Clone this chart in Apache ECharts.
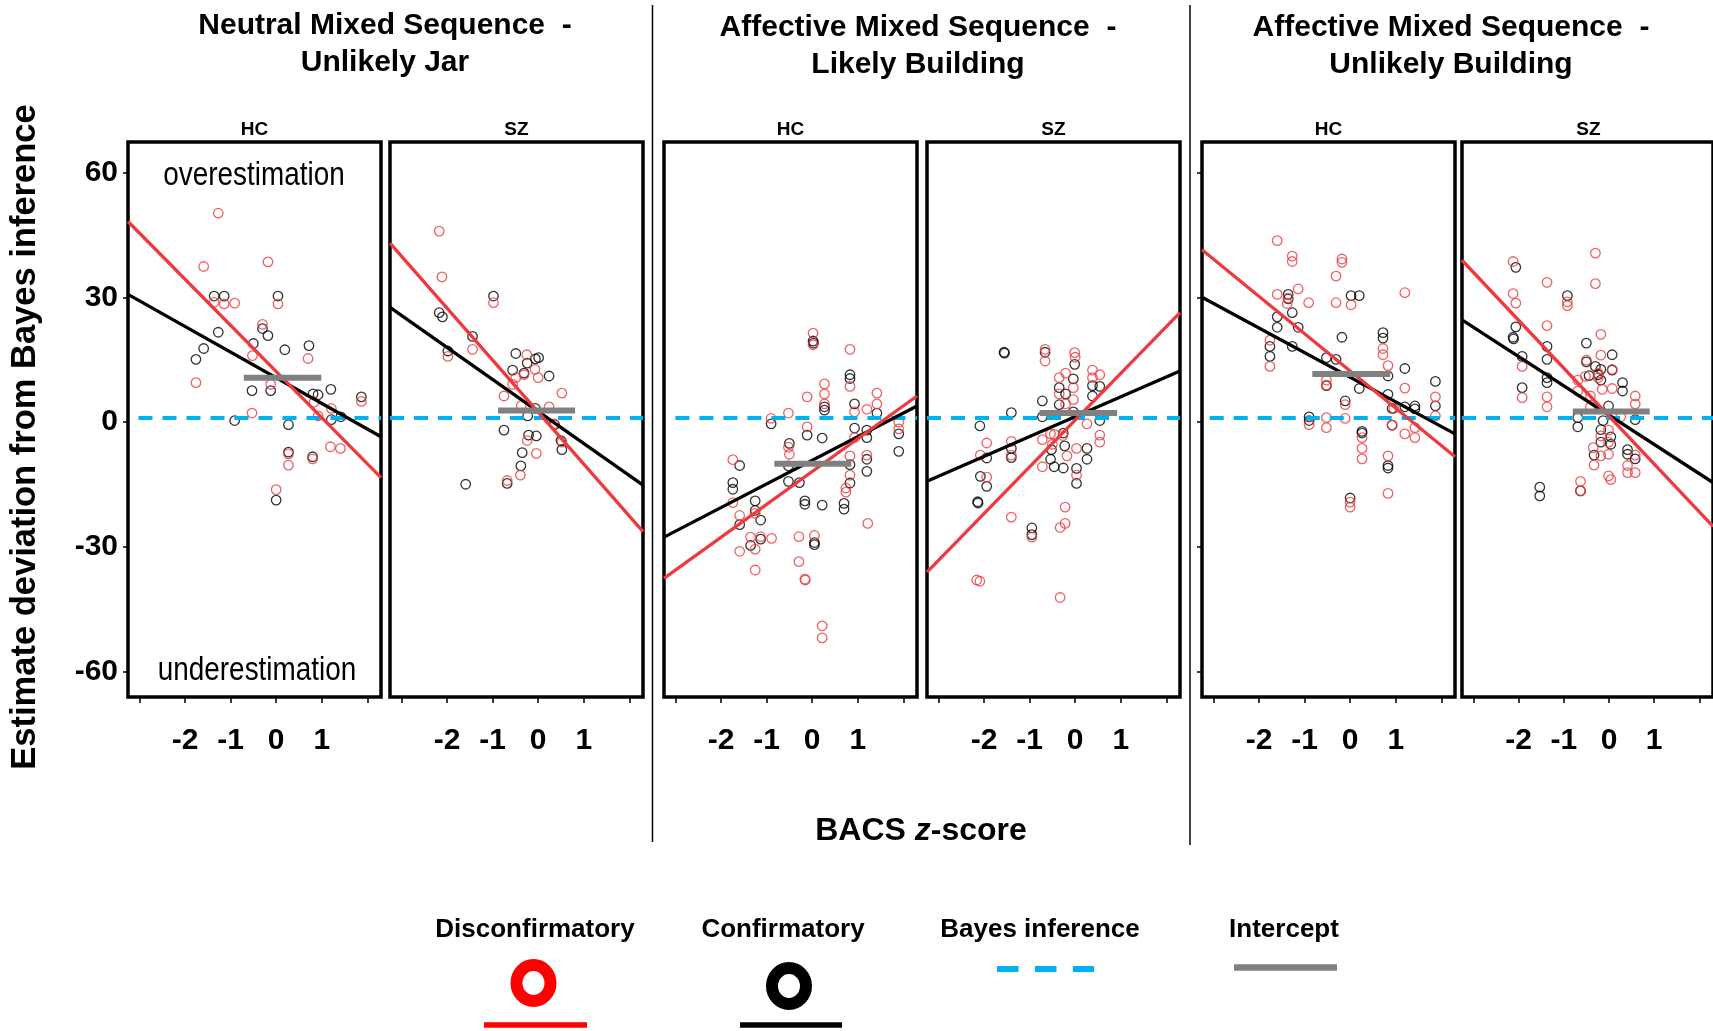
<!DOCTYPE html>
<html><head><meta charset="utf-8">
<script src="https://cdn.jsdelivr.net/npm/echarts@6/dist/echarts.min.js"></script>
<style>html,body{margin:0;padding:0;background:#fff}#c{width:1713px;height:1031px}</style>
</head><body><div id="c"></div>
<script>
// ---------- tick / label values ----------
const xTicks = [-3, -2, -1, 0, 1, 2];
const xTickLabels = [-2, -1, 0, 1];
const yTicks = [-60, -30, 0, 30, 60];
const bayesLevel = 1;

// ---------- titles ----------
const groupTitles = [
  ["Neutral Mixed Sequence  -", "Unlikely Jar"],
  ["Affective Mixed Sequence  -", "Likely Building"],
  ["Affective Mixed Sequence  -", "Unlikely Building"]
];
const panelLabels = ["HC", "SZ", "HC", "SZ", "HC", "SZ"];
const legendNames = ["Disconfirmatory", "Confirmatory", "Bayes inference", "Intercept"];

// ---------- Panel 1: Neutral / Unlikely Jar / HC ----------
const p1Dis = [[-1.27,50.2],[-1.59,37.4],[-0.18,38.5],[-1.36,28.8],[-1.14,28.4],[-0.91,28.6],[0.04,28.4],[-0.30,23.5],[-0.52,16.0],[0.70,15.3],[-1.76,9.5],[-0.12,9.1],[-0.53,2.2],[0.83,4.8],[1.21,3.3],[0.92,1.5],[1.87,5.0],[1.19,-5.9],[1.41,-6.3],[0.27,-7.6],[0.27,-10.3],[0.80,-8.8],[0.0,-16.2]];
const p1Con = [[-1.36,30.3],[-1.14,30.3],[0.04,30.3],[-1.27,21.6],[-0.30,22.5],[-0.18,20.8],[-1.59,17.7],[-1.76,15.1],[-0.50,18.9],[0.19,17.4],[0.72,18.4],[-0.53,7.6],[-0.12,7.6],[0.81,6.8],[0.92,6.6],[1.20,7.9],[1.87,6.1],[-0.91,0.4],[1.21,0.6],[1.42,1.3],[0.27,-0.6],[0.27,-7.2],[0.80,-8.3],[0.0,-18.7]];
const p1DisLine = [[-3.25,48.2],[2.3,-13.3]];
const p1ConLine = [[-3.25,30.7],[2.3,-3.5]];
const p1Intercept = [[-0.71,10.7],[0.99,10.7]];

// ---------- Panel 2: Neutral / Unlikely Jar / SZ ----------
const p2Dis = [[-2.17,45.9],[-2.11,34.9],[-0.98,28.7],[-1.44,17.5],[-1.98,15.8],[-0.25,16.2],[-0.07,12.7],[-0.31,11.4],[-0.49,10.7],[0.0,10.7],[-0.56,9.1],[0.52,7.0],[-0.75,6.3],[-0.37,4.0],[0.24,3.7],[-0.24,-4.4],[-0.04,-7.5],[0.52,-4.8],[-0.39,-12.7],[-0.68,-14.0],[0.35,-0.4]];
const p2Con = [[-0.98,30.3],[-2.17,26.3],[-2.10,25.3],[-1.44,20.6],[-1.98,17.1],[-0.49,16.5],[-0.24,14.2],[-0.06,15.2],[0.01,15.5],[-0.56,12.5],[-0.31,11.8],[0.24,11.1],[-0.06,3.3],[-0.23,1.5],[0.36,-0.6],[-0.75,-1.9],[-0.21,-3.1],[-0.04,-3.3],[0.50,-4.4],[0.52,-6.6],[-0.35,-7.3],[-0.38,-10.5],[-0.68,-14.7],[-1.59,-14.9]];
const p2DisLine = [[-3.25,43.0],[2.3,-26.3]];
const p2ConLine = [[-3.25,27.6],[2.3,-15.1]];
const p2Intercept = [[-0.88,2.8],[0.81,2.8]];

// ---------- Panel 3: Affective / Likely Building / HC ----------
const p3Dis = [[0.02,21.4],[0.02,18.6],[0.83,17.5],[0.27,9.2],[0.27,6.8],[-0.11,6.1],[0.83,8.6],[1.42,7.0],[1.42,4.4],[0.27,4.4],[1.20,3.1],[0.93,2.5],[-0.52,2.2],[-0.90,0.9],[-0.11,-1.1],[1.90,0.0],[1.90,-1.6],[0.93,-3.7],[-0.52,-6.0],[-0.50,-7.7],[-1.74,-9.0],[0.83,-8.1],[1.20,-7.9],[0.83,-12.7],[0.74,-15.8],[0.74,-16.8],[-1.74,-19.3],[-1.59,-22.4],[-1.25,-21.9],[-1.35,-27.6],[-1.13,-27.5],[-0.89,-27.9],[-0.29,-27.5],[0.05,-27.2],[-1.59,-31.0],[-1.25,-30.5],[-0.29,-33.5],[-1.25,-35.5],[-0.16,-37.7],[-0.15,-37.9],[1.22,-24.3],[0.22,-48.9],[0.22,-51.8]];
const p3Con = [[0.02,19.5],[0.03,19.0],[0.83,11.4],[0.83,10.5],[0.27,3.7],[0.27,2.9],[0.93,4.4],[1.42,2.2],[-0.90,-0.4],[0.93,-1.4],[1.20,-1.9],[1.20,-3.7],[-0.11,-3.1],[0.22,-3.8],[1.90,-2.8],[1.90,-7.0],[-0.50,-5.1],[-1.59,-10.4],[-0.52,-10.5],[0.83,-10.2],[1.20,-8.9],[1.20,-11.8],[-0.52,-14.2],[-0.28,-14.5],[-1.74,-14.5],[-1.74,-16.1],[0.83,-14.6],[-1.25,-18.9],[-1.25,-21.2],[-0.16,-18.9],[-0.16,-19.7],[0.22,-19.9],[0.70,-19.5],[0.70,-20.9],[-1.13,-23.5],[-1.59,-24.6],[-1.35,-29.6],[-1.13,-28.1],[0.05,-28.9],[0.05,-29.4]];
const p3DisLine = [[-3.25,-37.5],[2.3,6.3]];
const p3ConLine = [[-3.25,-27.6],[2.3,3.9]];
const p3Intercept = [[-0.83,-10.0],[0.86,-10.0]];

// ---------- Panel 4: Affective / Likely Building / SZ ----------
const p4Dis = [[-0.66,17.5],[-0.66,14.7],[-0.01,16.7],[0.0,15.6],[-0.21,11.8],[0.38,12.5],[0.38,10.7],[0.54,11.4],[-0.35,10.7],[-0.04,8.3],[-0.35,6.8],[-0.21,4.4],[-0.04,5.4],[0.26,-0.4],[-1.94,-5.0],[-1.40,-4.6],[-0.72,-4.2],[-0.54,-2.8],[-0.46,-2.9],[-0.50,-5.3],[-0.27,-3.2],[0.54,-4.8],[0.54,-3.1],[-2.08,-7.9],[-1.40,-7.9],[0.03,-6.3],[-0.18,-8.1],[-0.72,-10.7],[-1.94,-13.2],[0.03,-12.7],[-0.22,-20.4],[-0.22,-24.3],[-0.33,-25.3],[-1.40,-22.8],[-0.95,-27.6],[-2.16,-37.9],[-2.09,-38.2],[-0.33,-42.1]];
const p4Con = [[-1.56,16.8],[-1.55,16.6],[-0.66,16.8],[-0.01,13.9],[-0.04,10.4],[-0.35,8.3],[-0.21,6.8],[0.38,8.8],[0.54,8.6],[0.38,6.3],[-0.72,5.1],[-0.35,4.2],[-1.40,2.3],[-0.72,1.3],[-0.04,2.5],[-2.09,-0.9],[0.54,0.4],[-0.26,-2.6],[-0.23,-5.7],[-1.40,-6.3],[-1.40,-8.5],[-1.94,-8.6],[-0.52,-6.6],[-0.54,-8.9],[-0.46,-10.7],[-0.26,-11.0],[0.26,-6.3],[0.26,-8.9],[0.03,-11.1],[0.03,-14.7],[-2.08,-13.0],[-1.94,-15.4],[-2.14,-19.1],[-2.13,-19.4],[-0.95,-25.4],[-0.95,-27.0]];
const p4DisLine = [[-3.25,-36.0],[2.3,26.3]];
const p4ConLine = [[-3.25,-14.2],[2.3,12.3]];
const p4Intercept = [[-0.78,2.2],[0.92,2.2]];

// ---------- Panel 5: Affective / Unlikely Building / HC ----------
const p5Dis = [[-1.60,43.6],[-1.27,39.9],[-1.27,38.6],[-0.18,39.2],[-0.18,38.4],[-0.31,35.1],[-1.14,32.0],[-1.60,30.7],[-1.38,28.5],[-0.91,28.7],[-0.31,28.7],[0.02,28.2],[1.20,31.1],[-1.36,29.8],[-1.76,19.7],[-1.76,13.4],[0.72,17.7],[0.72,16.2],[0.83,13.6],[-0.52,10.1],[-0.52,8.9],[1.20,8.2],[-0.11,4.2],[1.87,6.1],[1.87,1.5],[0.96,3.3],[-0.11,0.9],[-0.52,1.1],[-0.90,-0.6],[-0.52,-1.3],[0.92,-0.7],[1.42,-1.3],[1.42,-3.7],[1.20,-2.8],[0.26,-3.7],[0.26,-6.3],[0.26,-8.8],[0.83,-8.1],[0.83,-17.1],[0.0,-20.4],[0.0,-19.2]];
const p5Con = [[-1.36,30.7],[-1.36,29.6],[0.02,30.4],[0.20,30.4],[-1.27,26.3],[-1.60,25.3],[-1.60,22.8],[-1.14,22.8],[-0.18,20.4],[-1.27,18.2],[-1.76,18.2],[-1.76,15.8],[0.72,21.5],[0.72,20.2],[-0.52,15.5],[-0.31,15.1],[1.20,12.9],[0.83,11.1],[-0.52,8.8],[0.20,8.1],[0.83,6.7],[1.87,9.8],[1.87,3.9],[-0.11,5.1],[0.92,3.3],[1.20,3.7],[1.42,3.9],[1.42,3.2],[-0.90,1.3],[-0.90,0.4],[0.26,-2.2],[0.26,-2.6],[0.83,-10.4],[0.83,-11.0],[0.0,-18.2],[0.92,-0.7]];
const p5DisLine = [[-3.25,41.4],[2.3,-8.3]];
const p5ConLine = [[-3.25,30.0],[2.3,-2.8]];
const p5Intercept = [[-0.83,11.6],[0.88,11.6]];

// ---------- Panel 6: Affective / Unlikely Building / SZ ----------
const p6Dis = [[-0.30,40.6],[-0.30,33.3],[-2.12,38.6],[-2.12,30.9],[-2.06,28.6],[-1.37,33.6],[-0.92,28.9],[-0.92,28.0],[-1.37,23.2],[-0.18,21.1],[-0.18,16.1],[-1.92,13.4],[-1.92,5.9],[-1.37,6.1],[-1.37,3.7],[-0.50,14.9],[-0.24,11.8],[0.07,12.7],[-0.69,10.1],[-0.52,11.0],[-0.24,10.7],[0.07,8.1],[-0.15,7.9],[-0.69,7.5],[-0.41,6.3],[0.58,6.3],[0.58,4.4],[-0.41,3.7],[0.26,1.3],[-0.01,-1.9],[-0.18,-3.3],[-0.01,-4.8],[-0.35,-6.1],[-0.18,-8.1],[-0.01,-7.7],[-0.33,-10.3],[0.41,-10.4],[0.41,-12.1],[0.58,-12.1],[0.58,-7.9],[-0.63,-14.2],[-0.63,-16.5],[-0.01,-12.9],[0.04,-13.8]];
const p6Con = [[-2.06,37.2],[-0.92,30.4],[-2.06,22.9],[-2.12,20.4],[-2.11,20.0],[-1.92,15.8],[-1.37,18.2],[-1.37,15.1],[-1.92,8.3],[-1.37,10.7],[-1.37,9.5],[-0.50,19.0],[0.07,16.2],[-0.50,14.5],[-0.30,13.4],[-0.18,12.7],[0.07,12.5],[-0.44,11.2],[-0.24,11.4],[-0.18,10.1],[0.30,9.5],[0.30,7.5],[-0.01,3.9],[-0.69,1.1],[-0.13,0.4],[0.58,0.6],[-0.69,-1.1],[-0.18,-1.8],[0.04,-3.5],[-0.18,-4.8],[0.04,-5.3],[0.41,-6.6],[0.41,-7.7],[0.58,-8.8],[-0.33,-7.9],[-1.53,-15.6],[-1.53,-17.7],[-0.63,-16.5]];
const p6DisLine = [[-3.25,38.9],[2.3,-25.0]];
const p6ConLine = [[-3.25,24.6],[2.3,-14.5]];
const p6Intercept = [[-0.80,2.6],[0.90,2.6]];

// where the Bayes dashed reference line starts in each panel (x value)
const bayesStart = [-3.02, -3.25, -3.0, -3.25, -3.08, -3.25];

// ---------- assembly ----------
const panels = [
  {dis:p1Dis, con:p1Con, disLine:p1DisLine, conLine:p1ConLine, icpt:p1Intercept},
  {dis:p2Dis, con:p2Con, disLine:p2DisLine, conLine:p2ConLine, icpt:p2Intercept},
  {dis:p3Dis, con:p3Con, disLine:p3DisLine, conLine:p3ConLine, icpt:p3Intercept},
  {dis:p4Dis, con:p4Con, disLine:p4DisLine, conLine:p4ConLine, icpt:p4Intercept},
  {dis:p5Dis, con:p5Con, disLine:p5DisLine, conLine:p5ConLine, icpt:p5Intercept},
  {dis:p6Dis, con:p6Con, disLine:p6DisLine, conLine:p6ConLine, icpt:p6Intercept}
];

const FONT = '"Liberation Sans", Arial, Helvetica, sans-serif';
const RED = '#ee3a3f', BLACK = '#000000', BLUE = '#00b0f0', GRAY = '#808080';
const X_MIN = -3.25, X_MAX = 2.3, Y_MIN = -66, Y_MAX = 67.3;
const gridLefts = [128, 390, 664, 927, 1202, 1462];
const GRID_TOP = 142, GRID_H = 555, GRID_W = 253;

const grids = [], xAxes = [], yAxes = [], series = [];
panels.forEach((p, i) => {
  grids.push({left: gridLefts[i], top: GRID_TOP, width: GRID_W, height: GRID_H,
    show: true, borderColor: '#000', borderWidth: 3.5, backgroundColor: 'transparent'});
  xAxes.push({gridIndex: i, type: 'value', min: X_MIN, max: X_MAX, position: 'bottom',
    axisLine: {show: false, onZero: false}, splitLine: {show: false},
    axisTick: {show: true, customValues: xTicks, length: 6, lineStyle: {color: '#000', width: 1.5}},
    axisLabel: {show: true, customValues: xTickLabels, margin: 29, fontSize: 30, fontWeight: 'bold',
      color: '#000', fontFamily: FONT}});
  yAxes.push({gridIndex: i, type: 'value', min: Y_MIN, max: Y_MAX, position: 'left',
    axisLine: {show: false, onZero: false}, splitLine: {show: false},
    axisTick: {show: i === 0 || i === 4, customValues: yTicks, length: 5, lineStyle: {color: '#000', width: 1.5}},
    axisLabel: {show: i === 0, customValues: yTicks, margin: 10, fontSize: 30, fontWeight: 'bold',
      color: '#000', fontFamily: FONT, padding: [5, 0, 0, 0]}});
  const common = {xAxisIndex: i, yAxisIndex: i, silent: true, animation: false};
  series.push(Object.assign({type: 'scatter', data: p.con, symbol: 'circle', symbolSize: 9.5,
    itemStyle: {color: 'rgba(0,0,0,0)', borderColor: BLACK, borderWidth: 1.3}, z: 2}, common));
  series.push(Object.assign({type: 'scatter', data: p.dis, symbol: 'circle', symbolSize: 9.5,
    itemStyle: {color: 'rgba(0,0,0,0)', borderColor: RED, borderWidth: 1.3}, z: 2}, common));
  series.push(Object.assign({type: 'line', data: [[bayesStart[i], bayesLevel], [X_MAX, bayesLevel]], symbol: 'none',
    lineStyle: {color: BLUE, width: 4, type: [14, 10]}, z: 3}, common));
  series.push(Object.assign({type: 'line', data: p.conLine, symbol: 'none',
    lineStyle: {color: BLACK, width: 3.3}, z: 4}, common));
  series.push(Object.assign({type: 'line', data: p.disLine, symbol: 'none',
    lineStyle: {color: RED, width: 3.3}, z: 4}, common));
  series.push(Object.assign({type: 'line', data: p.icpt, symbol: 'none',
    lineStyle: {color: GRAY, width: 6, cap: 'butt'}, z: 5}, common));
});

function txt(x, y, text, size, weight, extra) {
  return Object.assign({type: 'text', x: x, y: y, silent: true, z: 100,
    style: {text: text, fontSize: size, fontWeight: weight || 'bold', fontFamily: FONT, fill: '#000',
      align: 'center', verticalAlign: 'middle', textAlign: 'center', textVerticalAlign: 'middle'}}, extra || {});
}

const graphics = [];
// group titles
const titleCenters = [[385, 26, 63], [918, 28, 65], [1451, 28, 65]];
groupTitles.forEach((t, k) => {
  graphics.push(txt(titleCenters[k][0], titleCenters[k][1], t[0], 30, 'bold'));
  graphics.push(txt(titleCenters[k][0], titleCenters[k][2], t[1], 30, 'bold'));
});
// HC / SZ labels
panelLabels.forEach((t, i) => graphics.push(txt(gridLefts[i] + GRID_W / 2, 130, t, 19, 'bold')));
// over / under estimation
graphics.push(txt(254, 176, 'overestimation', 34, 'normal', {scaleX: 0.82, scaleY: 1}));
graphics.push(txt(257, 671, 'underestimation', 34, 'normal', {scaleX: 0.82, scaleY: 1}));
// axis titles
graphics.push(txt(25, 437, 'Estimate deviation from Bayes inference', 34.5, 'bold', {rotation: Math.PI / 2}));
graphics.push({type: 'text', x: 921, y: 831, silent: true, z: 100,
  style: {text: '{a|BACS }{b|z}{a|-score}', fill: '#000', align: 'center', verticalAlign: 'middle',
    textAlign: 'center', textVerticalAlign: 'middle',
    rich: {a: {fontSize: 32, fontWeight: 'bold', fontFamily: FONT, fill: '#000', color: '#000'},
           b: {fontSize: 32, fontWeight: 'bold', fontStyle: 'italic', fontFamily: FONT, fill: '#000', color: '#000'}}}});
// group dividers
[[652.5, 5, 842], [1190, 5, 845]].forEach(d => graphics.push({type: 'line', silent: true,
  shape: {x1: d[0], y1: d[1], x2: d[0], y2: d[2]}, style: {stroke: '#000', lineWidth: 1.5}}));
// legend
const legX = [535, 783, 1040, 1284];
legendNames.forEach((n, k) => graphics.push(txt(legX[k], 929.5, n, 26, 'bold')));
graphics.push({type: 'ellipse', silent: true, shape: {cx: 533.5, cy: 983, rx: 17, ry: 18},
  style: {fill: 'none', stroke: '#ff0000', lineWidth: 12}});
graphics.push({type: 'ellipse', silent: true, shape: {cx: 789, cy: 986, rx: 17, ry: 18},
  style: {fill: 'none', stroke: '#000', lineWidth: 12}});
graphics.push({type: 'line', silent: true, shape: {x1: 484, y1: 1025, x2: 587, y2: 1025},
  style: {stroke: '#ff0000', lineWidth: 5.5}});
graphics.push({type: 'line', silent: true, shape: {x1: 740, y1: 1025, x2: 842, y2: 1025},
  style: {stroke: '#000', lineWidth: 5.5}});
graphics.push({type: 'line', silent: true, shape: {x1: 997, y1: 969, x2: 1094, y2: 969},
  style: {stroke: BLUE, lineWidth: 6, lineDash: [21.5, 16.5]}});
graphics.push({type: 'line', silent: true, shape: {x1: 1234, y1: 967.5, x2: 1337, y2: 967.5},
  style: {stroke: GRAY, lineWidth: 6.4}});

const chart = echarts.init(document.getElementById('c'), null, {renderer: 'canvas'});
chart.setOption({
  animation: false,
  backgroundColor: '#fff',
  grid: grids, xAxis: xAxes, yAxis: yAxes, series: series,
  graphic: graphics
});
</script></body></html>
